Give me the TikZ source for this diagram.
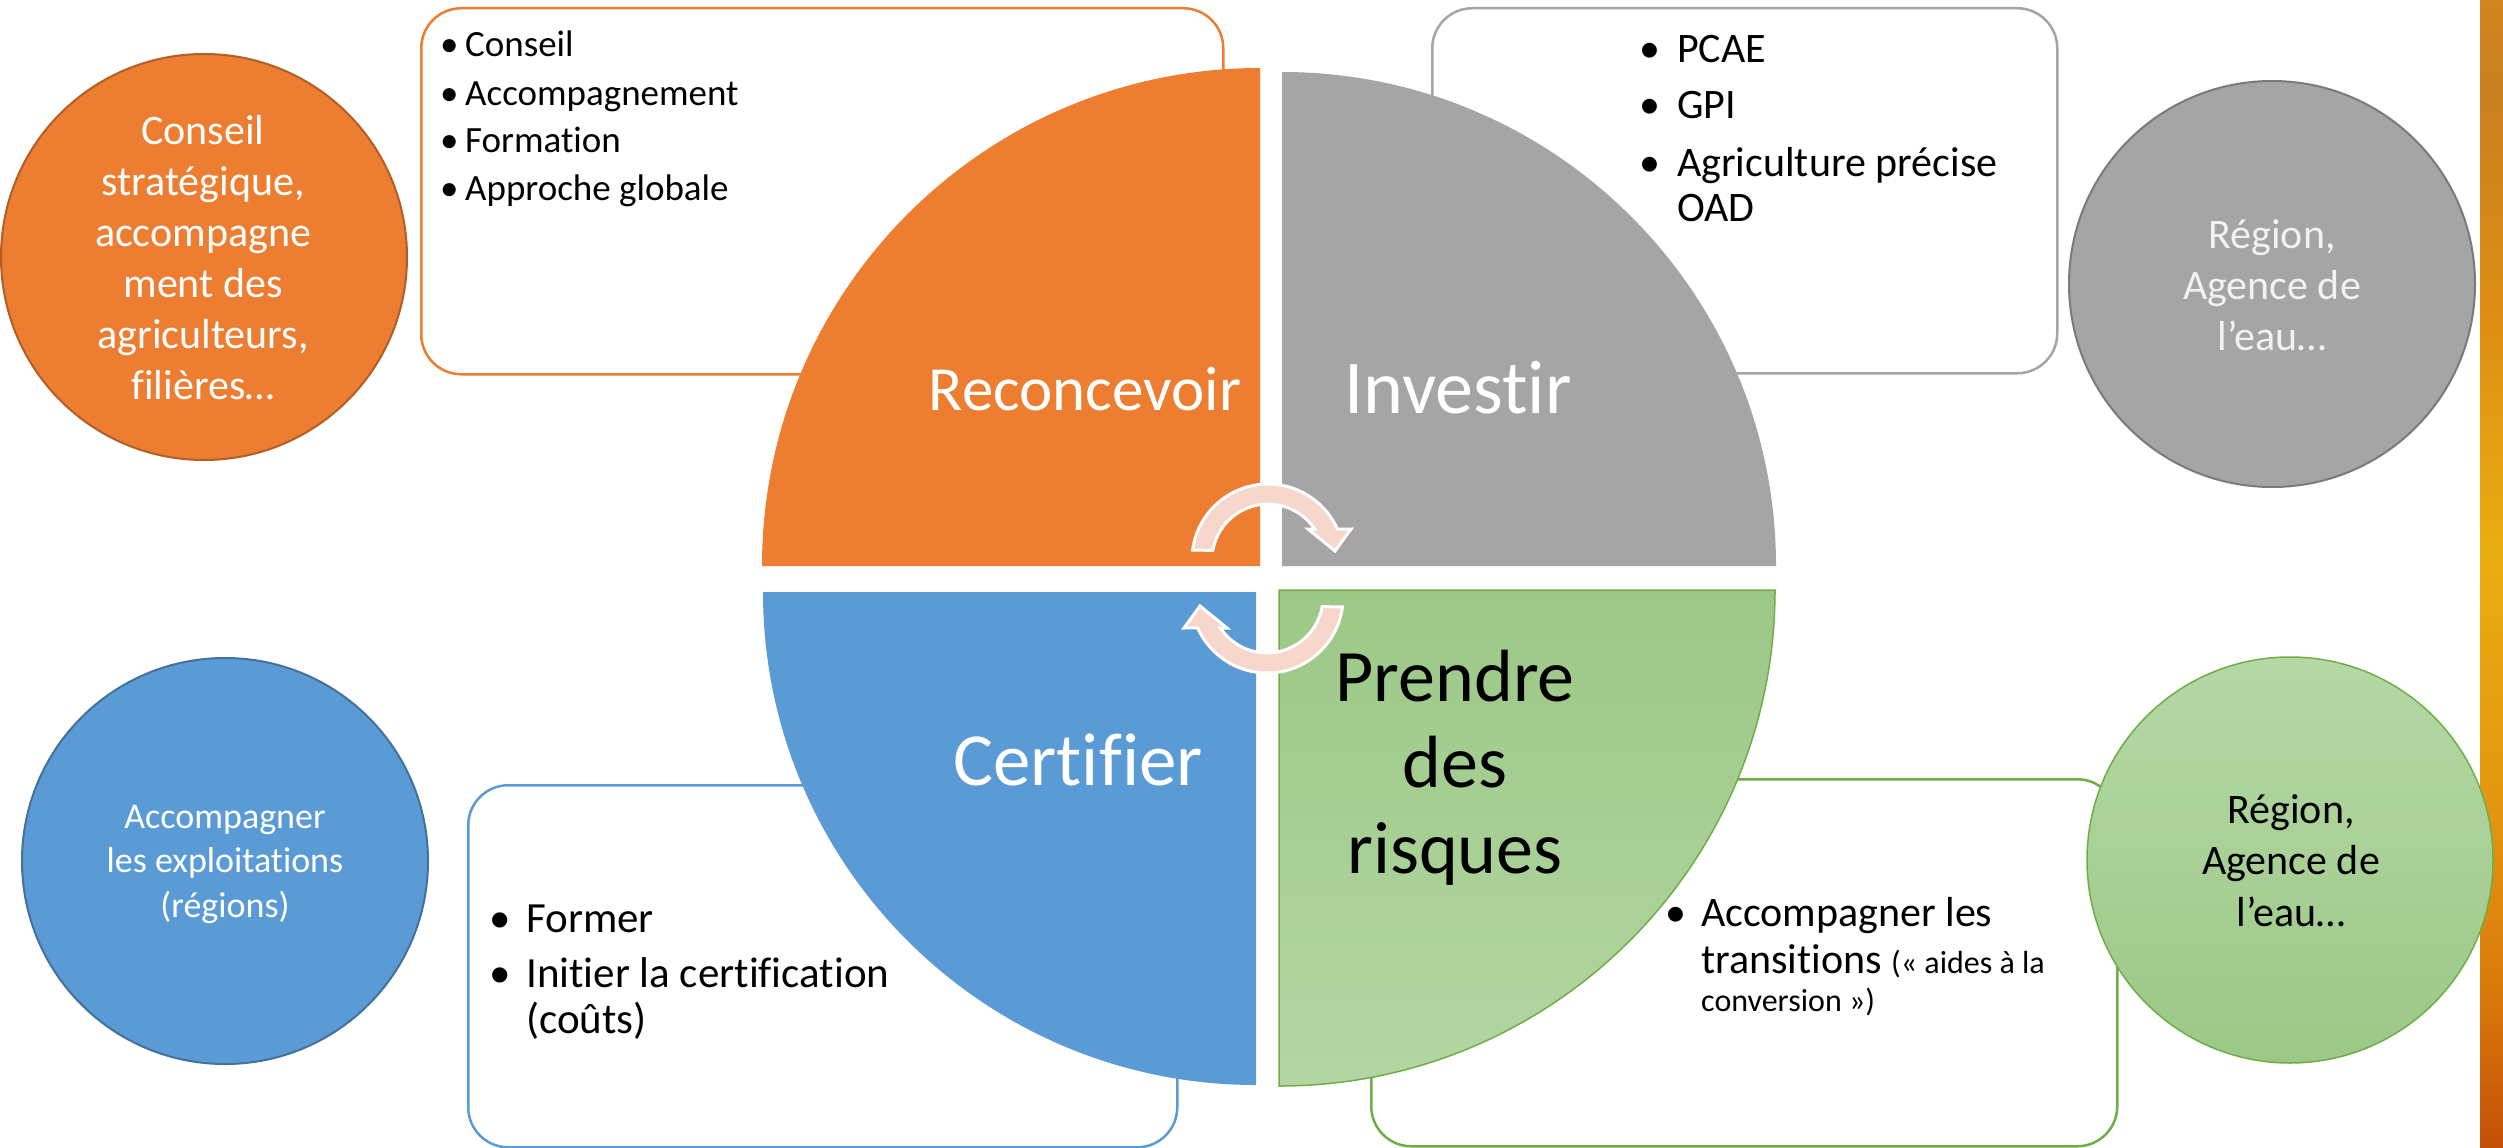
\documentclass[tikz,border=0pt]{standalone}
\usepackage{fontspec}
\setmainfont{Carlito}[Ligatures=NoCommon]
\usetikzlibrary{calc}
\definecolor{cOrange}{HTML}{ED7D31}
\definecolor{cOrangeD}{HTML}{B25E25}
\definecolor{cGray}{HTML}{A5A5A5}
\definecolor{cGrayD}{HTML}{7A7A7A}
\definecolor{cBlue}{HTML}{5B9BD5}
\definecolor{cBlueD}{HTML}{42719B}
\definecolor{cGreen}{HTML}{70AD47}
\definecolor{cGreenT}{HTML}{9CC887}
\definecolor{cGreenB}{HTML}{B3D6A3}
\definecolor{cGreenCT}{HTML}{B5D8A6}
\definecolor{cGreenCB}{HTML}{9CC887}
\definecolor{cPeach}{HTML}{F7D6CB}
\definecolor{cWhiteish}{HTML}{F2F2F2}
\definecolor{s0}{HTML}{B52A04}
\definecolor{s1}{HTML}{C84008}
\definecolor{s2}{HTML}{D45A0A}
\definecolor{s3}{HTML}{C45008}
\definecolor{s4}{HTML}{D97A0C}
\definecolor{s5}{HTML}{E2940F}
\definecolor{s6}{HTML}{E9AE12}
\definecolor{s7}{HTML}{DD8E14}
\definecolor{s8}{HTML}{C98020}
\definecolor{s9}{HTML}{E0901E}
\definecolor{s10}{HTML}{E8951F}
\definecolor{s11}{HTML}{D27A1F}
\pgfdeclareverticalshading{stripshade}{100bp}{color(0bp)=(s0); color(8bp)=(s1); color(17bp)=(s2); color(25bp)=(s3); color(32bp)=(s4); color(39bp)=(s5); color(51bp)=(s6); color(61bp)=(s7); color(71bp)=(s8); color(83bp)=(s9); color(93bp)=(s10); color(100bp)=(s11)}
\begin{document}
\begin{tikzpicture}[x=1pt,y=-1pt,
  roundbox/.style={draw, line width=2.5pt, fill=white, rounded corners=40pt, inner sep=0pt, anchor=north west},
  bigcirc/.style={circle, line width=2pt, inner sep=0pt, minimum size=406pt},
  listtxt/.style={anchor=base west, inner sep=0pt, text=black},
  ctxt/.style={anchor=base, inner sep=0pt},
  arrowsty/.style={fill=cPeach, draw=white, line width=3pt, line join=miter}
]
\useasboundingbox (0,0) rectangle (2503,1148);
\fill[white] (0,0) rectangle (2503,1148);

% ---- rounded text boxes
\node[roundbox, draw=cOrange, minimum width=802pt, minimum height=366pt] (boxO) at (420,7) {};
\node[roundbox, draw=cGray, minimum width=625pt, minimum height=365pt] (boxG) at (1431,7) {};
\node[roundbox, draw=cBlue, minimum width=709pt, minimum height=362pt] (boxB) at (467,784) {};
\node[roundbox, draw=cGreen, minimum width=746pt, minimum height=367pt] (boxV) at (1370,778) {};

\node[listtxt, font=\fontsize{37}{48}\selectfont] (txtO) at (440,57) {\begin{tabular}[t]{@{}p{25pt}@{}l@{}}
\textbullet & Conseil\\
\textbullet & Accompagnement\\
\textbullet & Formation\\
\textbullet & Approche globale
\end{tabular}};

\node[listtxt, font=\fontsize{42}{45}\selectfont] (txtG) at (1639,63) {\begin{tabular}[t]{@{}p{38pt}@{}l@{}}
\textbullet & PCAE\\[11pt]
\textbullet & GPI\\[13pt]
\textbullet & Agriculture précise\\
 & OAD
\end{tabular}};

\node[listtxt, font=\fontsize{43}{46}\selectfont] (txtB) at (489,932) {\begin{tabular}[t]{@{}p{37pt}@{}l@{}}
\textbullet & Former\\[9pt]
\textbullet & Initier la certification\\
 & (coûts)
\end{tabular}};

\node[listtxt, font=\fontsize{42}{47}\selectfont] (txtV) at (1665,926) {\begin{tabular}[t]{@{}p{36pt}@{}l@{}}
\textbullet & Accompagner les\\
 & transitions {\fontsize{32}{38}\selectfont(« aides à la}\\[-9pt]
 & {\fontsize{32}{38}\selectfont conversion »)}
\end{tabular}};

% ---- quarters
\fill[cOrange] (1260,566) -- (762,566) arc[start angle=180, end angle=270, radius=498] -- cycle;
\fill[cGray] (1282,566) -- (1282,72) arc[start angle=270, end angle=360, radius=494] -- cycle;
\fill[cBlue] (1256,592) -- (1256,1085) arc[start angle=90, end angle=180, radius=493] -- cycle;
\path[top color=cGreenT, bottom color=cGreenB, draw=cGreen, line width=1.5pt] (1279,590) -- (1775,590) arc[start angle=0, end angle=90, radius=496] -- cycle;

\node[ctxt, text=white, font=\fontsize{63}{74}\selectfont] (lblR) at (1085,410) {Reconcevoir};
\node[ctxt, text=white, font=\fontsize{76}{90}\selectfont] (lblI) at (1458,413) {Investir};
\node[ctxt, text=white, font=\fontsize{75}{88}\selectfont] (lblC) at (1078,785) {Certifier};
\node[ctxt, text=black, font=\fontsize{74}{86}\selectfont] (lblP) at (1455,701) {\begin{tabular}[t]{@{}c@{}}Prendre\\des\\risques\end{tabular}};

% ---- cycle arrows
\filldraw[arrowsty] (1192.6,550.1) arc[start angle=187.5, end angle=336, radius=76]
  -- (1351,529) -- (1335,551) -- (1308,529) -- (1314.6,529)
  arc[start angle=326.3, end angle=190, radius=56] -- cycle;
\begin{scope}[rotate around={180:(1267.5,578.5)}]
\filldraw[arrowsty] (1192.6,550.1) arc[start angle=187.5, end angle=336, radius=76]
  -- (1351,529) -- (1335,551) -- (1308,529) -- (1314.6,529)
  arc[start angle=326.3, end angle=190, radius=56] -- cycle;
\end{scope}

% ---- right edge strip
\path[shading=stripshade] (2480,0) rectangle (2503,1148);

% ---- side circles
\node[bigcirc, fill=cOrange, draw=cOrangeD] (cirO) at (204,257) {};
\node[bigcirc, fill=cGray, draw=cGrayD] (cirG) at (2272,284) {};
\node[bigcirc, fill=cBlue, draw=cBlueD] (cirB) at (225,861) {};
\node[bigcirc, top color=cGreenCT, bottom color=cGreenCB, draw=cGreen, line width=1.5pt] (cirV) at (2290,860) {};

\node[ctxt, text=white, font=\fontsize{42}{51}\selectfont] (tcO) at (203,144) {\begin{tabular}[t]{@{}c@{}}Conseil\\stratégique,\\accompagne\\ment des\\agriculteurs,\\filières…\end{tabular}};
\node[ctxt, text=cWhiteish, font=\fontsize{42}{51}\selectfont] (tcG) at (2272,248) {\begin{tabular}[t]{@{}c@{}}Région,\\Agence de\\l’eau…\end{tabular}};
\node[ctxt, text=white, font=\fontsize{36}{44.5}\selectfont] (tcB) at (225,828) {\begin{tabular}[t]{@{}c@{}}Accompagner\\les exploitations\\(régions)\end{tabular}};
\node[ctxt, text=black, font=\fontsize{42}{51.5}\selectfont] (tcV) at (2291,823) {\begin{tabular}[t]{@{}c@{}}Région,\\Agence de\\l’eau…\end{tabular}};
\end{tikzpicture}
\end{document}
